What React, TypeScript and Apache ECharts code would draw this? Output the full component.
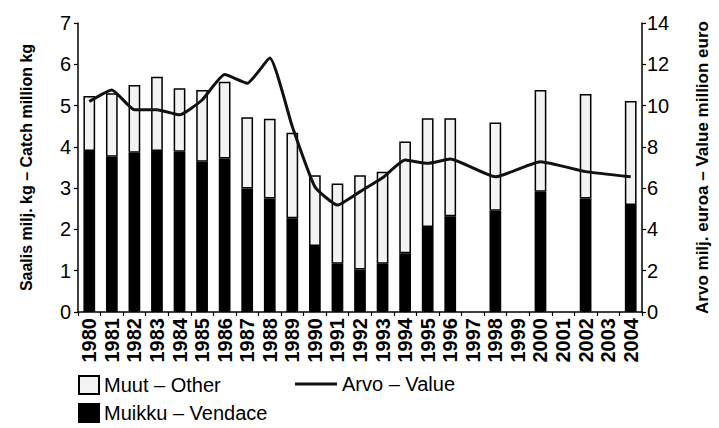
import React, { useEffect, useRef } from "react";
import * as echarts from "echarts";

const years = ["1980","1981","1982","1983","1984","1985","1986","1987","1988","1989","1990","1991","1992","1993","1994","1995","1996","1997","1998","1999","2000","2001","2002","2003","2004"];
const vendace = [3.9, 3.76, 3.86, 3.9, 3.88, 3.64, 3.72, 2.99, 2.75, 2.27, 1.6, 1.17, 1.03, 1.17, 1.42, 2.06, 2.32, null, 2.45, null, 2.91, null, 2.75, null, 2.59];
const other = [1.33, 1.54, 1.64, 1.8, 1.54, 1.74, 1.86, 1.73, 1.93, 2.07, 1.71, 1.94, 2.28, 2.23, 2.71, 2.63, 2.37, null, 2.14, null, 2.47, null, 2.53, null, 2.52];
const value = [10.2, 10.76, 9.8, 9.8, 9.55, 10.27, 11.5, 11.08, 12.3, 8.98, 6.07, 5.18, 5.83, 6.5, 7.36, 7.2, 7.41, null, 6.55, null, 7.28, null, 6.8, null, 6.55];
const leftTicks = [0, 7, 1];
const rightTicks = [0, 14, 2];

const NARROW = "'Liberation Sans Narrow', 'Arial Narrow', 'Liberation Sans', Arial, sans-serif";
const SANS = "'Liberation Sans', Arial, sans-serif";

export default function App() {
  const ref = useRef<HTMLDivElement>(null);
  useEffect(() => {
    if (!ref.current) return;
    const chart = echarts.init(ref.current, undefined, { renderer: "svg" });
    const axisLine = { show: true, lineStyle: { color: "#000", width: 1.5 } };
    const axisTick = { show: true, length: 4, lineStyle: { color: "#000", width: 1.2 } };
    const legendText = { color: "#000", fontSize: 20, fontFamily: SANS };
    chart.setOption({
      animation: false,
      backgroundColor: "#fff",
      textStyle: { fontFamily: SANS },
      grid: { left: 78, right: 61, top: 23, bottom: 116, containLabel: false },
      legend: [
        {
          left: 78, top: 375, padding: 0, itemWidth: 20, itemHeight: 18, itemGap: 10,
          data: [{ name: "Muut – Other", icon: "rect" }],
          textStyle: legendText,
        },
        {
          left: 295, top: 374, padding: 0, itemWidth: 42, itemHeight: 3, itemGap: 12,
          data: [{ name: "Arvo – Value", icon: "rect" }],
          textStyle: legendText,
        },
        {
          left: 78, top: 403, padding: 0, itemWidth: 20, itemHeight: 18, itemGap: 10,
          data: [{ name: "Muikku – Vendace", icon: "rect" }],
          textStyle: legendText,
        },
      ],
      xAxis: {
        type: "category",
        data: years,
        axisLine,
        axisTick,
        axisLabel: { color: "#000", fontSize: 20, fontWeight: "bold", fontFamily: SANS, rotate: 90, interval: 0, margin: 6 },
      },
      yAxis: [
        {
          type: "value",
          min: leftTicks[0], max: leftTicks[1], interval: leftTicks[2],
          position: "left",
          axisLine, axisTick,
          splitLine: { show: false },
          axisLabel: { color: "#000", fontSize: 20, fontFamily: SANS, margin: 7 },
          name: "Saalis milj. kg – Catch million kg",
          nameLocation: "middle",
          nameGap: 44,
          nameTextStyle: { color: "#000", fontSize: 16, fontWeight: "bold", fontFamily: NARROW },
        },
        {
          type: "value",
          min: rightTicks[0], max: rightTicks[1], interval: rightTicks[2],
          position: "right",
          axisLine, axisTick,
          splitLine: { show: false },
          axisLabel: { color: "#000", fontSize: 20, fontFamily: SANS, margin: 5 },
          name: "Arvo milj. euroa – Value million euro",
          nameLocation: "middle",
          nameGap: 52,
          nameRotate: 90,
          nameTextStyle: { color: "#000", fontSize: 17, fontWeight: "bold", fontFamily: NARROW },
        },
      ],
      series: [
        {
          name: "Muikku – Vendace",
          type: "bar",
          stack: "catch",
          barWidth: "52%",
          data: vendace,
          itemStyle: { color: "#000", borderColor: "#000", borderWidth: 1.5 },
        },
        {
          name: "Muut – Other",
          type: "bar",
          stack: "catch",
          barWidth: "52%",
          data: other,
          itemStyle: { color: "#f3f3f3", borderColor: "#000", borderWidth: 1.5 },
        },
        {
          name: "Arvo – Value",
          type: "line",
          yAxisIndex: 1,
          data: value,
          connectNulls: true,
          smooth: 0.15,
          symbol: "none",
          lineStyle: { color: "#111", width: 3 },
          itemStyle: { color: "#111" },
        },
      ],
    });
    return () => chart.dispose();
  }, []);
  return <div ref={ref} style={{ position: "fixed", left: 0, top: 0, width: 719, height: 428 }} />;
}
